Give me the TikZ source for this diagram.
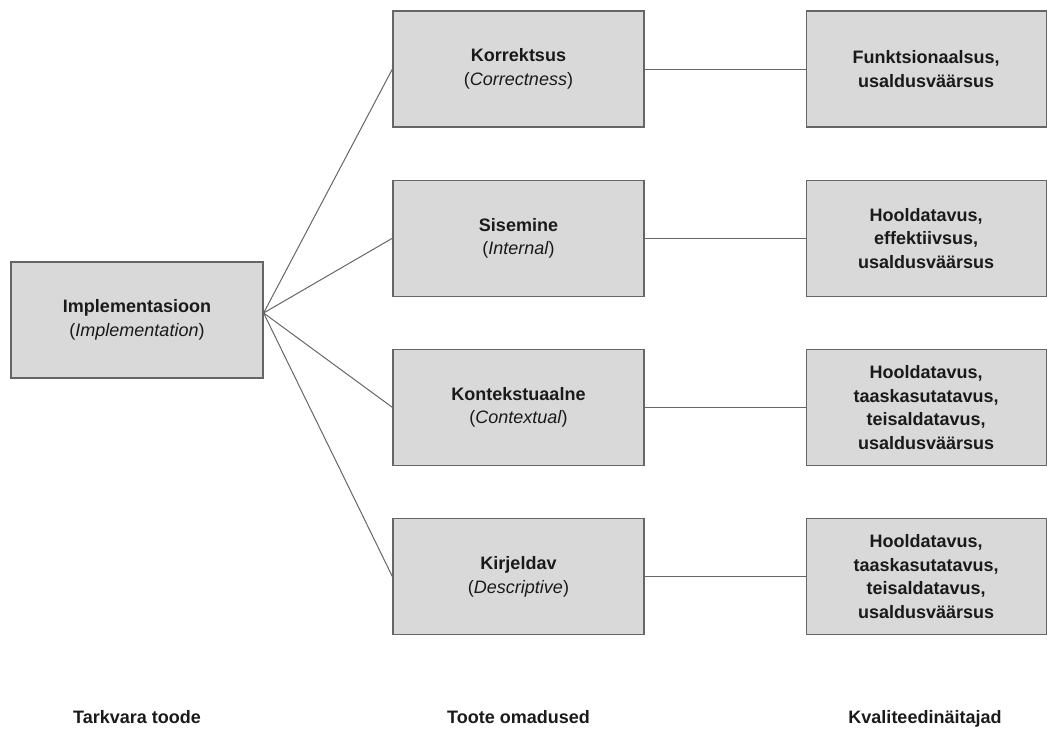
\documentclass[tikz,border=0pt]{standalone}
\usepackage{fontspec}
\setmainfont{Liberation Sans}
\usetikzlibrary{positioning}
\definecolor{cBox}{HTML}{D9D9D9}
\definecolor{cEdge}{HTML}{666666}
\definecolor{cText}{HTML}{1A1A1A}

\begin{document}
\begin{tikzpicture}[x=1pt, y=-1pt,
  box/.style={draw=cEdge, line width=1.2pt, fill=cBox, minimum height=116pt, align=center, text=cText, font=\fontsize{18}{23.5}\selectfont},
  link/.style={draw=cEdge, line width=1pt},
  coltitle/.style={font=\bfseries\fontsize{18}{22}\selectfont, text=cText, anchor=base}
]
\useasboundingbox (0,0) rectangle (1047,742);
% left column
\node[box, minimum width=252pt] (impl) at (137,320) {\textbf{Implementasioon}\\(\textit{Implementation})};
\coordinate (hub) at ([yshift=7pt]impl.east);
% middle column
\node[box, minimum width=251pt] (korr) at (518.5,69) {\textbf{Korrektsus}\\(\textit{Correctness})};
\node[box, minimum width=251pt, below=52pt of korr] (sise) {\textbf{Sisemine}\\(\textit{Internal})};
\node[box, minimum width=251pt, below=52pt of sise] (kont) {\textbf{Kontekstuaalne}\\(\textit{Contextual})};
\node[box, minimum width=251pt, below=52pt of kont] (kirj) {\textbf{Kirjeldav}\\(\textit{Descriptive})};
% right column
\node[box, font=\bfseries\fontsize{18}{23.5}\selectfont, minimum width=240pt, right=161pt of korr] (q1) {Funktsionaalsus,\\usaldusväärsus};
\node[box, font=\bfseries\fontsize{18}{23.5}\selectfont, minimum width=240pt, right=161pt of sise] (q2) {Hooldatavus,\\effektiivsus,\\usaldusväärsus};
\node[box, font=\bfseries\fontsize{18}{23.5}\selectfont, minimum width=240pt, right=161pt of kont] (q3) {Hooldatavus,\\taaskasutatavus,\\teisaldatavus,\\usaldusväärsus};
\node[box, font=\bfseries\fontsize{18}{23.5}\selectfont, minimum width=240pt, right=161pt of kirj] (q4) {Hooldatavus,\\taaskasutatavus,\\teisaldatavus,\\usaldusväärsus};
% connectors
\foreach \m in {korr, sise, kont, kirj}
  \draw[link] (hub) -- (\m.west);
\draw[link] (korr) -- (q1);
\draw[link] (sise) -- (q2);
\draw[link] (kont) -- (q3);
\draw[link] (kirj) -- (q4);
% column titles
\node[coltitle] (t1) at (137,723) {Tarkvara toode};
\node[coltitle] (t2) at (518.5,723) {Toote omadused};
\node[coltitle] (t3) at (925,723) {Kvaliteedinäitajad};
\end{tikzpicture}
\end{document}
